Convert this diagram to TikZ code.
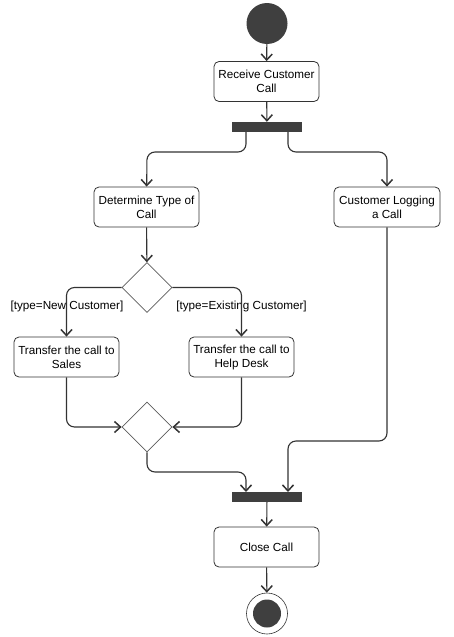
\documentclass[tikz,border=0pt]{standalone}
\usepackage{fontspec}
\setmainfont{Liberation Sans}
\usepackage{tikz}
\usetikzlibrary{shapes.geometric}
\usetikzlibrary{arrows.meta}
\usetikzlibrary{positioning}
\definecolor{umlstroke}{HTML}{333333}
\definecolor{umlfill}{HTML}{3F3F3F}
\tikzset{flow/.style={draw=umlstroke, line width=1.1pt, rounded corners=8pt, -{Straight Barb[length=6pt,width=11pt,line width=1.5pt]}}}
\tikzset{guard/.style={font=\fontsize{11.7}{14}\selectfont, inner sep=0pt}}

\begin{document}
\begin{tikzpicture}[x=1pt, y=-1pt]
	% Default action for each node
	\tikzstyle{activity}=[draw=umlstroke, line width=0.8pt, rounded corners=5pt, minimum width=105pt, minimum height=40pt, align=center, font=\fontsize{11.7}{14}\selectfont, inner sep=0pt];
	\tikzstyle{bar}=[fill=umlfill, draw=none, minimum width=70pt, minimum height=10pt, inner sep=0pt];
	\tikzstyle{choice}=[draw=umlstroke!80, line width=0.8pt, shape=diamond, minimum width=50pt, minimum height=50pt, inner sep=0pt, shape aspect=1];

	\useasboundingbox (0,0) rectangle (453,637);

	% TOP
	\node[circle, fill=umlfill, minimum size=41pt, inner sep=0pt] (start) at (267,23.5) {};
	\node[activity] (receive) at (266.5,81.5) {Receive Customer\\Call};
	\node[bar] (fork) at (267,127) {};
	\coordinate (fork west) at (246,132);		\coordinate (fork east) at (288,132);
	\coordinate (split west) at (147,152);		\coordinate (split east) at (387,152);

	% MIDDLE
	\node[activity] (determine) at (146.5,207) {Determine Type of\\Call};
	\node[activity, minimum width=106pt] (logging) at (387,207) {Customer Logging\\a Call};
	\node[choice] (decide) at (147,287.5) {};
	\node[guard] (new guard) at (67,306) {[type=New Customer]};
	\node[guard] (existing guard) at (241.5,306) {[type=Existing Customer]};
	\node[activity] (sales) at (66.5,357) {Transfer the call to\\Sales};
	\node[activity] (helpdesk) at (241.5,357) {Transfer the call to\\Help Desk};
	\node[choice] (merge) at (147,427) {};

	% BOTTOM
	\coordinate (gather west) at (147,472);		\coordinate (gather east) at (387,441);
	\coordinate (join west) at (246,492);		\coordinate (join east) at (288,492);
	\node[bar] (join) at (267,497) {};
	\node[activity] (close) at (266.5,547) {Close Call};
	\node[circle, draw=umlstroke, line width=0.6pt, minimum size=41pt, inner sep=0pt] (finish) at (267,613.5) {};
	\node[circle, fill=umlfill, minimum size=28pt, inner sep=0pt] (finish dot) at (finish) {};

	% Forward
	\draw[flow] (start) -- (receive);
	\draw[flow] (receive) -- (fork);
	\draw[flow] (fork west) |- (split west) -- (determine);
	\draw[flow] (fork east) |- (split east) -- (logging);
	\draw[flow] (determine) -- (decide);

	% Branches
	\draw[flow] (decide.west) -| (sales);
	\draw[flow] (decide.east) -| (helpdesk);
	\draw[flow] (sales) |- (merge.west);
	\draw[flow] (helpdesk) |- (merge.east);

	% Joins
	\draw[flow] (merge.south) -- (gather west) -| (join west);
	\draw[flow] (logging) -- (gather east) -| (join east);
	\draw[flow] (join) -- (close);
	\draw[flow] (close) -- (finish);
\end{tikzpicture}
\end{document}
